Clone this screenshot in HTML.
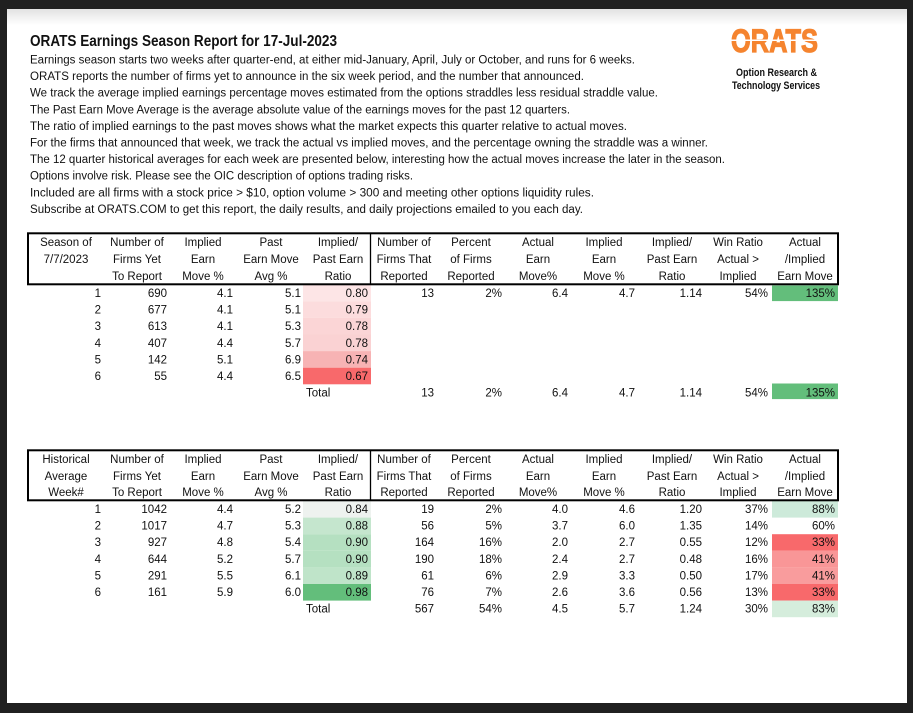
<!DOCTYPE html>
<html><head><meta charset="utf-8"><style>
html,body{margin:0;padding:0;background:#202020;}
svg{display:block;}
text{font-family:"Liberation Sans",sans-serif;fill:#111;}
.b{font-size:11.5px;}
.t{font-size:11.5px;}
.h{font-size:11.5px;text-anchor:middle;}
.n{font-size:11.5px;text-anchor:end;}
</style></head><body>
<svg width="913" height="713" viewBox="0 0 913 713" xmlns="http://www.w3.org/2000/svg">
<defs><linearGradient id="g" x1="0" y1="0" x2="0" y2="1"><stop offset="0" stop-color="#e2e2e2"/><stop offset="1" stop-color="#ffffff"/></linearGradient></defs>
<rect x="0" y="0" width="913" height="713" fill="#202020"/>
<rect x="7" y="9" width="900" height="694" fill="#ffffff"/>
<rect x="7" y="9" width="900" height="16" fill="url(#g)"/>

<text x="30" y="46" style="font-size:15.5px;font-weight:bold" textLength="307" lengthAdjust="spacingAndGlyphs">ORATS Earnings Season Report for 17-Jul-2023</text>
<g class="b">
<text class="b" x="30" y="63.5" textLength="605" lengthAdjust="spacingAndGlyphs">Earnings season starts two weeks after quarter-end, at either mid-January, April, July or October, and runs for 6 weeks.</text>
<text class="b" x="30" y="80.1" textLength="554" lengthAdjust="spacingAndGlyphs">ORATS reports the number of firms yet to announce in the six week period, and the number that announced.</text>
<text class="b" x="30" y="96.7" textLength="628" lengthAdjust="spacingAndGlyphs">We track the average implied earnings percentage moves estimated from the options straddles less residual straddle value.</text>
<text class="b" x="30" y="113.3" textLength="540" lengthAdjust="spacingAndGlyphs">The Past Earn Move Average is the average absolute value of the earnings moves for the past 12 quarters.</text>
<text class="b" x="30" y="129.9" textLength="597" lengthAdjust="spacingAndGlyphs">The ratio of implied earnings to the past moves shows what the market expects this quarter relative to actual moves.</text>
<text class="b" x="30" y="146.5" textLength="678" lengthAdjust="spacingAndGlyphs">For the firms that announced that week, we track the actual vs implied moves, and the percentage owning the straddle was a winner.</text>
<text class="b" x="30" y="163.1" textLength="695" lengthAdjust="spacingAndGlyphs">The 12 quarter historical averages for each week are presented below, interesting how the actual moves increase the later in the season.</text>
<text class="b" x="30" y="179.7" textLength="383" lengthAdjust="spacingAndGlyphs">Options involve risk. Please see the OIC description of options trading risks.</text>
<text class="b" x="30" y="196.3" textLength="564" lengthAdjust="spacingAndGlyphs">Included are all firms with a stock price &gt; $10, option volume &gt; 300 and meeting other options liquidity rules.</text>
<text class="b" x="30" y="212.9" textLength="553" lengthAdjust="spacingAndGlyphs">Subscribe at ORATS.COM to get this report, the daily results, and daily projections emailed to you each day.</text>
</g>

<!-- Logo -->
<text x="731" y="52" style="font-size:32px;font-weight:bold;fill:#f5842f;stroke:#f5842f;stroke-width:1.2" textLength="87" lengthAdjust="spacingAndGlyphs">ORATS</text>
<rect x="730" y="39.5" width="90" height="1.5" fill="#ffffff"/>
<text x="736" y="76" style="font-size:11px;font-weight:bold" textLength="81" lengthAdjust="spacingAndGlyphs">Option Research &amp;</text>
<text x="732" y="89" style="font-size:11px;font-weight:bold" textLength="88" lengthAdjust="spacingAndGlyphs">Technology Services</text>

<!-- Table 1 fills -->
<rect x="303" y="284.7" width="68" height="16.6" fill="#fde5e6"/>
<rect x="303" y="301.3" width="68" height="16.6" fill="#fcdcdd"/>
<rect x="303" y="317.9" width="68" height="16.6" fill="#fbd5d6"/>
<rect x="303" y="334.5" width="68" height="16.6" fill="#fad2d3"/>
<rect x="303" y="351.1" width="68" height="16.6" fill="#f7b3b4"/>
<rect x="303" y="367.7" width="68" height="16.6" fill="#f8696b"/>
<rect x="772" y="285.5" width="66" height="15.6" fill="#63be7b"/>
<rect x="772" y="383.5" width="66" height="15.6" fill="#63be7b"/>

<!-- Table 1 header -->
<rect x="28" y="233.3" width="810" height="51" fill="none" stroke="#000" stroke-width="2"/>
<line x1="370.5" y1="233.3" x2="370.5" y2="284.3" stroke="#000" stroke-width="1.3"/>
<g class="h">
<text class="h" x="66" y="246">Season of</text><text class="h" x="66" y="263">7/7/2023</text>
<text class="h" x="137" y="246">Number of</text><text class="h" x="137" y="263">Firms Yet</text><text class="h" x="137" y="280">To Report</text>
<text class="h" x="203" y="246">Implied</text><text class="h" x="203" y="263">Earn</text><text class="h" x="203" y="280">Move %</text>
<text class="h" x="271" y="246">Past</text><text class="h" x="271" y="263">Earn Move</text><text class="h" x="271" y="280">Avg %</text>
<text class="h" x="338" y="246">Implied/</text><text class="h" x="338" y="263">Past Earn</text><text class="h" x="338" y="280">Ratio</text>
<text class="h" x="404" y="246">Number of</text><text class="h" x="404" y="263">Firms That</text><text class="h" x="404" y="280">Reported</text>
<text class="h" x="471" y="246">Percent</text><text class="h" x="471" y="263">of Firms</text><text class="h" x="471" y="280">Reported</text>
<text class="h" x="538" y="246">Actual</text><text class="h" x="538" y="263">Earn</text><text class="h" x="538" y="280">Move%</text>
<text class="h" x="604" y="246">Implied</text><text class="h" x="604" y="263">Earn</text><text class="h" x="604" y="280">Move %</text>
<text class="h" x="672" y="246">Implied/</text><text class="h" x="672" y="263">Past Earn</text><text class="h" x="672" y="280">Ratio</text>
<text class="h" x="738" y="246">Win Ratio</text><text class="h" x="738" y="263">Actual &gt;</text><text class="h" x="738" y="280">Implied</text>
<text class="h" x="805" y="246">Actual</text><text class="h" x="805" y="263">/Implied</text><text class="h" x="805" y="280">Earn Move</text>
</g>

<!-- Table 1 rows -->
<g>
<text class="n" x="101" y="297">1</text><text class="n" x="167" y="297">690</text><text class="n" x="233" y="297">4.1</text><text class="n" x="301" y="297">5.1</text><text class="n" x="368" y="297">0.80</text><text class="n" x="434" y="297">13</text><text class="n" x="502" y="297">2%</text><text class="n" x="568" y="297">6.4</text><text class="n" x="635" y="297">4.7</text><text class="n" x="702" y="297">1.14</text><text class="n" x="768" y="297">54%</text><text class="n" x="835" y="297">135%</text>
<text class="n" x="101" y="313.6">2</text><text class="n" x="167" y="313.6">677</text><text class="n" x="233" y="313.6">4.1</text><text class="n" x="301" y="313.6">5.1</text><text class="n" x="368" y="313.6">0.79</text>
<text class="n" x="101" y="330.2">3</text><text class="n" x="167" y="330.2">613</text><text class="n" x="233" y="330.2">4.1</text><text class="n" x="301" y="330.2">5.3</text><text class="n" x="368" y="330.2">0.78</text>
<text class="n" x="101" y="346.8">4</text><text class="n" x="167" y="346.8">407</text><text class="n" x="233" y="346.8">4.4</text><text class="n" x="301" y="346.8">5.7</text><text class="n" x="368" y="346.8">0.78</text>
<text class="n" x="101" y="363.4">5</text><text class="n" x="167" y="363.4">142</text><text class="n" x="233" y="363.4">5.1</text><text class="n" x="301" y="363.4">6.9</text><text class="n" x="368" y="363.4">0.74</text>
<text class="n" x="101" y="380">6</text><text class="n" x="167" y="380">55</text><text class="n" x="233" y="380">4.4</text><text class="n" x="301" y="380">6.5</text><text class="n" x="368" y="380">0.67</text>
<text class="t" x="306" y="396.6">Total</text><text class="n" x="434" y="396.6">13</text><text class="n" x="502" y="396.6">2%</text><text class="n" x="568" y="396.6">6.4</text><text class="n" x="635" y="396.6">4.7</text><text class="n" x="702" y="396.6">1.14</text><text class="n" x="768" y="396.6">54%</text><text class="n" x="835" y="396.6">135%</text>
</g>

<!-- Table 2 fills -->
<rect x="303" y="501" width="68" height="16.6" fill="#eef2ef"/>
<rect x="303" y="517.6" width="68" height="16.6" fill="#c5e6ce"/>
<rect x="303" y="534.2" width="68" height="16.6" fill="#b5e0c1"/>
<rect x="303" y="550.8" width="68" height="16.6" fill="#b5e0c1"/>
<rect x="303" y="567.4" width="68" height="16.6" fill="#bfe4c9"/>
<rect x="303" y="584" width="68" height="16.6" fill="#63be7b"/>
<rect x="772" y="501" width="66" height="16.6" fill="#cdeada"/>
<rect x="772" y="534.2" width="66" height="16.6" fill="#f8696b"/>
<rect x="772" y="550.8" width="66" height="16.6" fill="#f99697"/>
<rect x="772" y="567.4" width="66" height="16.6" fill="#f99c9d"/>
<rect x="772" y="584" width="66" height="16.6" fill="#f8696b"/>
<rect x="772" y="600.6" width="66" height="16.6" fill="#d5eddc"/>

<!-- Table 2 header -->
<rect x="28" y="450.3" width="810" height="50" fill="none" stroke="#000" stroke-width="2"/>
<line x1="370.5" y1="450.3" x2="370.5" y2="500.3" stroke="#000" stroke-width="1.3"/>
<g>
<text class="h" x="66" y="463">Historical</text><text class="h" x="66" y="480">Average</text><text class="h" x="66" y="496">Week#</text>
<text class="h" x="137" y="463">Number of</text><text class="h" x="137" y="480">Firms Yet</text><text class="h" x="137" y="496">To Report</text>
<text class="h" x="203" y="463">Implied</text><text class="h" x="203" y="480">Earn</text><text class="h" x="203" y="496">Move %</text>
<text class="h" x="271" y="463">Past</text><text class="h" x="271" y="480">Earn Move</text><text class="h" x="271" y="496">Avg %</text>
<text class="h" x="338" y="463">Implied/</text><text class="h" x="338" y="480">Past Earn</text><text class="h" x="338" y="496">Ratio</text>
<text class="h" x="404" y="463">Number of</text><text class="h" x="404" y="480">Firms That</text><text class="h" x="404" y="496">Reported</text>
<text class="h" x="471" y="463">Percent</text><text class="h" x="471" y="480">of Firms</text><text class="h" x="471" y="496">Reported</text>
<text class="h" x="538" y="463">Actual</text><text class="h" x="538" y="480">Earn</text><text class="h" x="538" y="496">Move%</text>
<text class="h" x="604" y="463">Implied</text><text class="h" x="604" y="480">Earn</text><text class="h" x="604" y="496">Move %</text>
<text class="h" x="672" y="463">Implied/</text><text class="h" x="672" y="480">Past Earn</text><text class="h" x="672" y="496">Ratio</text>
<text class="h" x="738" y="463">Win Ratio</text><text class="h" x="738" y="480">Actual &gt;</text><text class="h" x="738" y="496">Implied</text>
<text class="h" x="805" y="463">Actual</text><text class="h" x="805" y="480">/Implied</text><text class="h" x="805" y="496">Earn Move</text>
</g>

<!-- Table 2 rows -->
<g>
<text class="n" x="101" y="513">1</text><text class="n" x="167" y="513">1042</text><text class="n" x="233" y="513">4.4</text><text class="n" x="301" y="513">5.2</text><text class="n" x="368" y="513">0.84</text><text class="n" x="434" y="513">19</text><text class="n" x="502" y="513">2%</text><text class="n" x="568" y="513">4.0</text><text class="n" x="635" y="513">4.6</text><text class="n" x="702" y="513">1.20</text><text class="n" x="768" y="513">37%</text><text class="n" x="835" y="513">88%</text>
<text class="n" x="101" y="529.6">2</text><text class="n" x="167" y="529.6">1017</text><text class="n" x="233" y="529.6">4.7</text><text class="n" x="301" y="529.6">5.3</text><text class="n" x="368" y="529.6">0.88</text><text class="n" x="434" y="529.6">56</text><text class="n" x="502" y="529.6">5%</text><text class="n" x="568" y="529.6">3.7</text><text class="n" x="635" y="529.6">6.0</text><text class="n" x="702" y="529.6">1.35</text><text class="n" x="768" y="529.6">14%</text><text class="n" x="835" y="529.6">60%</text>
<text class="n" x="101" y="546.2">3</text><text class="n" x="167" y="546.2">927</text><text class="n" x="233" y="546.2">4.8</text><text class="n" x="301" y="546.2">5.4</text><text class="n" x="368" y="546.2">0.90</text><text class="n" x="434" y="546.2">164</text><text class="n" x="502" y="546.2">16%</text><text class="n" x="568" y="546.2">2.0</text><text class="n" x="635" y="546.2">2.7</text><text class="n" x="702" y="546.2">0.55</text><text class="n" x="768" y="546.2">12%</text><text class="n" x="835" y="546.2">33%</text>
<text class="n" x="101" y="562.8">4</text><text class="n" x="167" y="562.8">644</text><text class="n" x="233" y="562.8">5.2</text><text class="n" x="301" y="562.8">5.7</text><text class="n" x="368" y="562.8">0.90</text><text class="n" x="434" y="562.8">190</text><text class="n" x="502" y="562.8">18%</text><text class="n" x="568" y="562.8">2.4</text><text class="n" x="635" y="562.8">2.7</text><text class="n" x="702" y="562.8">0.48</text><text class="n" x="768" y="562.8">16%</text><text class="n" x="835" y="562.8">41%</text>
<text class="n" x="101" y="579.4">5</text><text class="n" x="167" y="579.4">291</text><text class="n" x="233" y="579.4">5.5</text><text class="n" x="301" y="579.4">6.1</text><text class="n" x="368" y="579.4">0.89</text><text class="n" x="434" y="579.4">61</text><text class="n" x="502" y="579.4">6%</text><text class="n" x="568" y="579.4">2.9</text><text class="n" x="635" y="579.4">3.3</text><text class="n" x="702" y="579.4">0.50</text><text class="n" x="768" y="579.4">17%</text><text class="n" x="835" y="579.4">41%</text>
<text class="n" x="101" y="596">6</text><text class="n" x="167" y="596">161</text><text class="n" x="233" y="596">5.9</text><text class="n" x="301" y="596">6.0</text><text class="n" x="368" y="596">0.98</text><text class="n" x="434" y="596">76</text><text class="n" x="502" y="596">7%</text><text class="n" x="568" y="596">2.6</text><text class="n" x="635" y="596">3.6</text><text class="n" x="702" y="596">0.56</text><text class="n" x="768" y="596">13%</text><text class="n" x="835" y="596">33%</text>
<text class="t" x="306" y="612.6">Total</text><text class="n" x="434" y="612.6">567</text><text class="n" x="502" y="612.6">54%</text><text class="n" x="568" y="612.6">4.5</text><text class="n" x="635" y="612.6">5.7</text><text class="n" x="702" y="612.6">1.24</text><text class="n" x="768" y="612.6">30%</text><text class="n" x="835" y="612.6">83%</text>
</g>
</svg>
</body></html>
